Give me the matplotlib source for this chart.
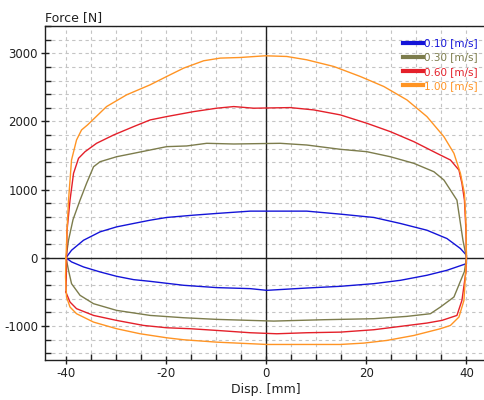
import numpy as np
import matplotlib.pyplot as plt
from matplotlib.ticker import MultipleLocator
from matplotlib.lines import Line2D

plt.rcParams['font.family'] = ['DejaVu Sans']
plt.rcParams['axes.unicode_minus'] = False

# Force vs displacement loops, one per test velocity
labels = ['0.10 [m/s]', '0.30 [m/s]', '0.60 [m/s]', '1.00 [m/s]']
colors = ['#1414d8', '#7c7c4c', '#e4202a', '#ff9424']

# 0.10 m/s
v010_up_x = [-40.0, -38.9, -36.5, -33.2, -29.9, -26.5, -23.2, -19.9, -14.5, -9.9, -3.2, 1.5, 8.1,
             14.8, 21.5, 26.8, 32.1, 36.1, 38.8, 40.0]
v010_up_f = [0, 110, 257, 380, 453, 503, 551, 591, 625, 650, 684, 684, 684,
             640, 591, 503, 404, 282, 135, 37]
v010_lo_x = [40.0, 36.1, 32.1, 26.8, 21.5, 14.8, 8.1, 0.1, -3.2, -9.9, -16.5, -23.2, -26.5,
             -29.9, -33.2, -36.5, -38.9, -40.0]
v010_lo_f = [-86, -184, -257, -331, -380, -419, -444, -478, -453, -438, -404, -346, -321,
             -272, -208, -135, -61, 0]

# 0.30 m/s
v030_up_x = [-40.0, -39.5, -38.6, -37.2, -35.9, -34.5, -33.2, -29.9, -26.5, -23.2, -19.9, -15.9,
             -11.9, -6.5, 2.8, 8.1, 14.8, 20.1, 24.8, 29.5, 33.5, 35.5, 36.8, 38.1, 39.3, 40.0]
v030_up_f = [0, 257, 560, 845, 1091, 1335, 1409, 1482, 1532, 1581, 1630, 1640,
             1679, 1669, 1679, 1654, 1591, 1556, 1482, 1385, 1262, 1140, 993, 845, 257, 0]
v030_lo_x = [40.0, 39.6, 37.5, 34.8, 32.8, 28.1, 21.5, 11.5, 1.5, -3.2, -9.9, -16.5, -23.2,
             -29.9, -34.5, -37.2, -38.9, -39.5, -40.0]
v030_lo_f = [0, -200, -576, -723, -821, -860, -894, -909, -929, -919, -904, -880, -846,
             -772, -674, -551, -380, -184, 0]

# 0.60 m/s
v060_up_x = [-40.0, -39.8, -39.2, -38.5, -37.5, -36.2, -33.9, -30.5, -26.5, -23.2, -19.9, -14.5,
             -9.9, -6.5, -2.5, 4.8, 9.5, 14.8, 20.1, 24.8, 29.5, 34.1, 36.8, 38.5, 39.1, 39.6,
             39.9, 40.0]
v060_up_f = [-500, 400, 845, 1238, 1459, 1556, 1679, 1801, 1924, 2022, 2071, 2144,
             2194, 2218, 2194, 2203, 2169, 2096, 1973, 1850, 1703, 1532, 1434, 1287, 1091, 845,
             400, 0]
v060_lo_x = [40.0, 39.9, 39.1, 38.1, 35.1, 32.1, 26.8, 21.5, 14.8, 8.1, 2.1, -3.2, -9.9, -15.2,
             -19.9, -24.5, -29.9, -34.5, -37.9, -39.2, -39.9, -40.0]
v060_lo_f = [0, -200, -625, -846, -919, -958, -1007, -1056, -1091, -1100, -1115, -1100, -1066, -1041,
             -1027, -993, -919, -846, -747, -650, -527, -500]

# 1.00 m/s
v100_up_x = [-40.0, -39.8, -39.5, -38.9, -37.9, -36.9, -35.7, -31.9, -27.9, -23.2, -19.9, -16.5,
             -12.5, -9.2, -5.2, -0.2, 4.1, 8.1, 13.5, 18.8, 23.5, 28.1, 32.1, 35.5, 37.5, 38.8,
             39.6, 39.9, 40.0]
v100_up_f = [0, 400, 845, 1434, 1728, 1875, 1949, 2218, 2390, 2537, 2659, 2782,
             2890, 2929, 2938, 2963, 2953, 2904, 2806, 2659, 2512, 2316, 2071, 1776, 1532, 1238,
             944, 500, 0]
v100_lo_x = [40.0, 39.9, 39.5, 38.5, 36.8, 34.8, 29.5, 24.1, 19.5, 14.8, 8.1, 0.1, -9.9, -16.5,
             -19.9, -25.2, -29.9, -34.5, -37.9, -39.2, -39.9, -40.1, -40.0]
v100_lo_f = [0, -135, -625, -870, -993, -1041, -1140, -1213, -1252, -1272, -1272, -1272, -1238, -1203,
             -1174, -1115, -1041, -944, -821, -723, -576, -282, 0]

loops = [
    (v010_up_x + v010_lo_x, v010_up_f + v010_lo_f),
    (v030_up_x + v030_lo_x, v030_up_f + v030_lo_f),
    (v060_up_x + v060_lo_x, v060_up_f + v060_lo_f),
    (v100_up_x + v100_lo_x, v100_up_f + v100_lo_f),
]

fig = plt.figure(figsize=(4.85, 4.0), dpi=100)
ax = fig.add_axes([45 / 485, 40 / 400, 1 - 45 / 485 + 0.002, 334 / 400])

for (xs, fs), c in zip(loops, colors):
    ax.plot(xs, fs, color=c, lw=1.0)

ax.set_xlim(-44.2, 43.9)
ax.set_ylim(-1500, 3400)

ax.xaxis.set_major_locator(MultipleLocator(20))
ax.xaxis.set_minor_locator(MultipleLocator(5))
ax.yaxis.set_major_locator(MultipleLocator(1000))
ax.yaxis.set_minor_locator(MultipleLocator(200))

ax.grid(which='both', color='#c4c4c4', ls=(0, (3, 3)), lw=0.8)
ax.set_axisbelow(True)
ax.axhline(0, color='#202020', lw=1.0, zorder=1)
ax.axvline(0, color='#202020', lw=1.0, zorder=1)

ax.spines['right'].set_visible(False)
for s in ['left', 'top', 'bottom']:
    ax.spines[s].set_color('#202020')
    ax.spines[s].set_linewidth(1.0)

ax.tick_params(which='major', direction='inout', length=6, width=1, labelsize=8.5,
               colors='#202020', pad=2)
ax.tick_params(which='minor', direction='in', length=4, width=1, colors='#202020')

fig.text(45 / 485, 1 - 24 / 400, 'Force [N]', fontsize=9, ha='left', va='bottom', color='#202020')
fig.text(266 / 485, 10 / 400, 'Disp. [mm]', fontsize=9, ha='center', va='center', color='#202020')

handles = [Line2D([], [], color=c, lw=3) for c in colors]
ax.legend(handles, labels, loc='upper right', bbox_to_anchor=(1.0, 0.988), frameon=False,
          fontsize=7.5, handlelength=1.9, handletextpad=0.1, labelspacing=0.4,
          borderpad=0.3, labelcolor=colors)

fig.savefig('out.png', dpi=100)
